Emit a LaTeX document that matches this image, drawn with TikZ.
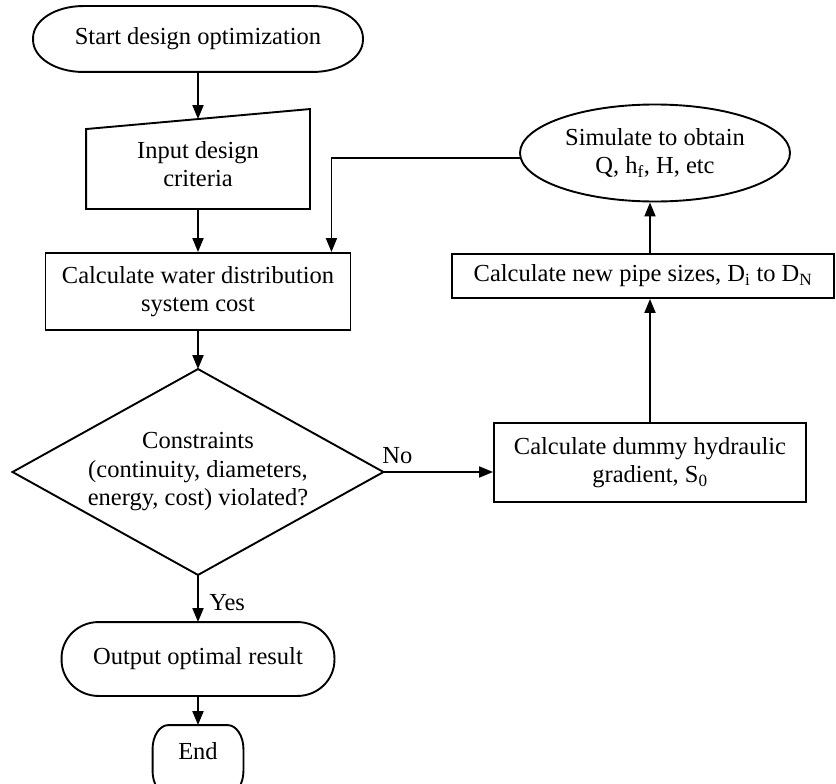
\documentclass[tikz,border=0pt]{standalone}
\usepackage{fontspec}
\setmainfont{Liberation Serif}
\usetikzlibrary{arrows.meta,calc,shapes.geometric}
\newcommand\termpath[3]{%
  \draw ($(#1.north west)+(#2,0)$) -- ($(#1.north east)+(-#2,0)$)
    arc[start angle=90,end angle=0,x radius=#2pt,y radius=#3pt]
    -- ($(#1.south east)+(0,-#3)$)
    arc[start angle=0,end angle=-90,x radius=#2pt,y radius=#3pt]
    -- ($(#1.south west)+(#2,0)$)
    arc[start angle=270,end angle=180,x radius=#2pt,y radius=#3pt]
    -- ($(#1.north west)+(0,#3)$)
    arc[start angle=180,end angle=90,x radius=#2pt,y radius=#3pt]
    -- cycle;}
\begin{document}
\begin{tikzpicture}[x=1pt,y=-1pt,line width=1.9pt,
  every node/.style={font=\fontsize{24.5}{28.5}\selectfont,align=center},
  shp/.style={draw=none,rectangle,inner sep=0pt},
  boxn/.style={draw,rectangle,inner sep=0pt},
  arr/.style={-{Triangle[length=14pt,width=11pt]},line width=1.9pt}]
\useasboundingbox (0,0) rectangle (836,784);
% nodes
\node[shp,minimum width=328pt,minimum height=64pt] (start) at (198,39) {Start design optimization};
\node[shp,minimum width=222pt,minimum height=88pt] (input) at (198,164) {Input design\\criteria};
\node[boxn,minimum width=305pt,minimum height=77pt] (calc) at (198,291.5) {Calculate water distribution\\system cost};
\node[shp,minimum width=369pt,minimum height=204pt] (dia) at (198,472) {Constraints\\(continuity, diameters,\\energy, cost) violated?};
\node[shp,minimum width=271pt,minimum height=72pt] (out) at (198,659) {Output optimal result};
\node[shp,minimum width=89pt,minimum height=68pt,text depth=18pt] (end) at (198,760) {End};
\node[draw,ellipse,inner sep=0pt,minimum width=270pt,minimum height=97pt] (sim) at (655,153) {Simulate to obtain\\Q, h\textsubscript{f}, H, etc};
\node[boxn,minimum width=382pt,minimum height=44pt] (np) at (643,276) {Calculate new pipe sizes, D\textsubscript{i} to D\textsubscript{N}};
\node[boxn,minimum width=312pt,minimum height=79pt] (dum) at (650,462.5) {Calculate dummy hydraulic\\gradient, S\textsubscript{0}};
% shapes
\termpath{start}{50}{32}
\termpath{out}{37}{36}
\termpath{end}{16}{24}
\draw (input.south west) -- (input.south east) -- ($(input.north east)+(0,-10)$) -- ($(input.north west)+(0,10)$) -- cycle;
\draw (dia.north) -- (dia.east) -- (dia.south) -- (dia.west) -- cycle;
% connectors
\draw[arr] (start.south) -- (input.north);
\draw[arr] (input.south) -- (calc.north);
\draw[arr] (calc.south) -- (dia.north);
\draw[arr] (dia.south) -- node[pos=0.58,anchor=west,xshift=7pt]{Yes} (out.north);
\draw[arr] (out.south) -- (end.north);
\draw[arr] (dia.east) -- node[pos=0,anchor=south west,inner sep=1pt,xshift=-3pt,yshift=6pt]{No} (dia.east -| dum.west);
\draw[arr] (dum.north) -- (dum.north |- np.south);
\draw[arr] (dum.north |- np.north) -- (dum.north |- sim.south);
\coordinate (fb) at ($(calc.north east)+(-20,0)$);
\draw[arr] (sim.182) -| (fb);
\end{tikzpicture}
\end{document}
